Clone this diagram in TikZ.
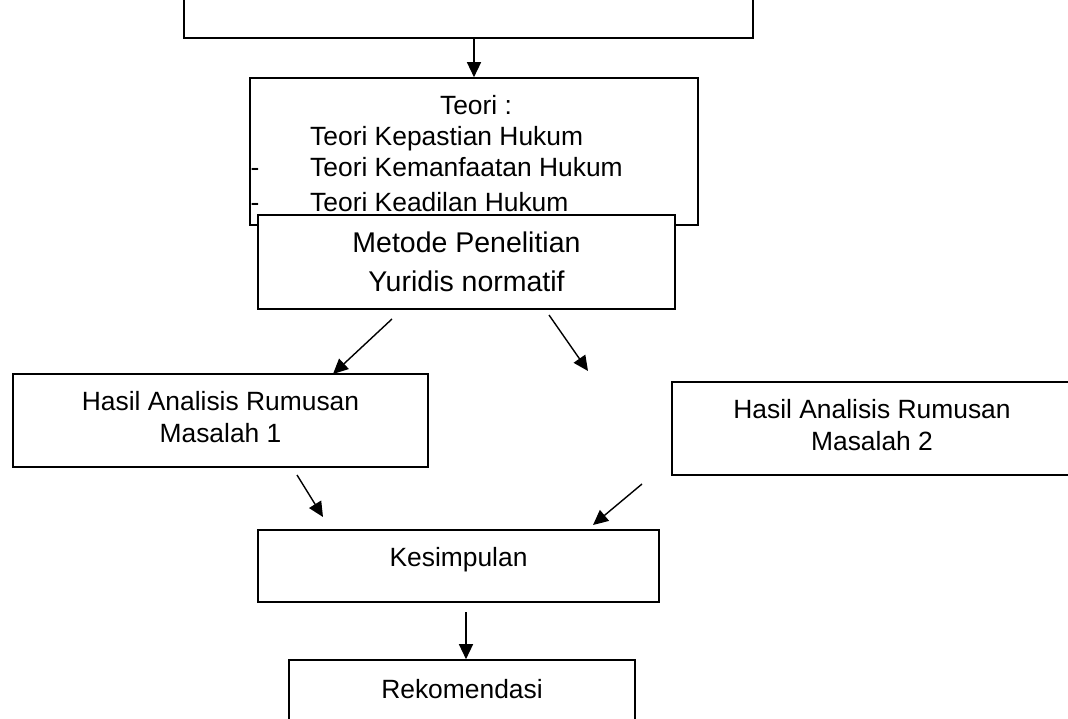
\documentclass[tikz,border=0pt]{standalone}
\usepackage{fontspec}
\setmainfont{Liberation Sans}
\usetikzlibrary{arrows.meta}
\tikzset{
    mybox/.style = {rectangle, draw=black, line width=1.6pt, fill=white, inner sep=0pt, align=center, font=\fontsize{26.4}{32}\selectfont},
    bigbox/.style = {mybox, font=\fontsize{28.5}{39}\selectfont},
    hasilbox/.style = {mybox, minimum height=93, text depth=8},
    item/.style = {anchor=base west, inner sep=0pt, font=\fontsize{26.4}{31}\selectfont},
    edgen/.style = {-{Triangle[length=15pt,width=14pt]}, line width=1.4pt},
}

\begin{document}
\begin{tikzpicture}[x=1pt,y=-1pt]
\useasboundingbox (0,0) rectangle (1068,719);
\clip (0,0) rectangle (1068,719);
% kotak atas (terpotong)
\node[mybox, minimum width=569, minimum height=120] (atas) at (468.5,-22) {};
% teori
\node[mybox, minimum width=448, minimum height=147] (teori) at (474,151.5) {};
\node[item, anchor=base] (judul) at (476,115) {Teori :};
\node[item] (t1) at (310,146) {Teori Kepastian Hukum};
\node[item] (t2) at (310,177) {Teori Kemanfaatan Hukum};
\node[item] (t3) at (310,212) {Teori Keadilan Hukum};
\node[item] (d2) at (250.5,177) {-};
\node[item] (d3) at (250.5,212) {-};
% metode
\node[bigbox, minimum width=417, minimum height=94] (metode) at (466.5,262) {Metode Penelitian\\Yuridis normatif};
% hasil
\node[hasilbox, minimum width=415] (hasil1) at (220.5,420.5) {Hasil Analisis Rumusan\\Masalah 1};
\node[hasilbox, minimum width=400] (hasil2) at (872,428.5) {Hasil Analisis Rumusan\\Masalah 2};
% kesimpulan, rekomendasi
\node[mybox, minimum width=401, minimum height=72, text height=19, text depth=19] (simpul) at (458.5,566) {Kesimpulan};
\node[mybox, minimum width=346, minimum height=100, text height=19, text depth=43] (rekom) at (462,710) {Rekomendasi};
%
\coordinate (m1) at (392,319);
\coordinate (h1) at (333,374);
\coordinate (m2) at (549,315);
\coordinate (h2) at (588,371);
\coordinate (s1) at (297,475);
\coordinate (k1) at (323,517);
\coordinate (s2) at (642,484);
\coordinate (k2) at (593,525);
\coordinate (s3) at (466,612);
%
\draw[edgen] (teori.north |- atas.south) -- (teori.north);
\draw[edgen] (m1) -- (h1);
\draw[edgen] (m2) -- (h2);
\draw[edgen] (s1) -- (k1);
\draw[edgen] (s2) -- (k2);
\draw[edgen] (s3) -- (s3 |- rekom.north);
\end{tikzpicture}
\end{document}
